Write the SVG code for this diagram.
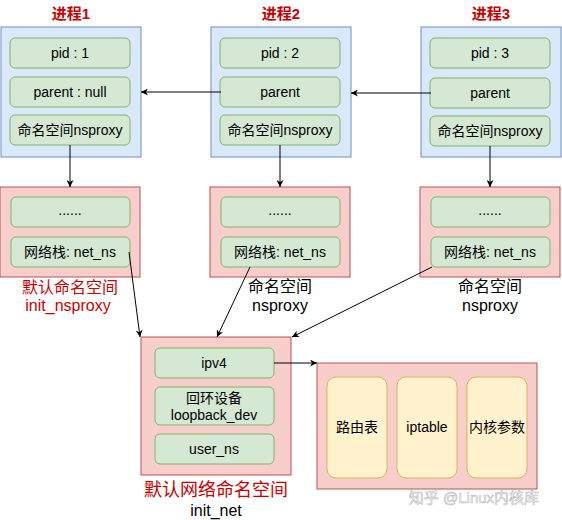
<svg xmlns="http://www.w3.org/2000/svg" width="562" height="520" viewBox="0 0 562 520">
<style>
text{font-family:"Liberation Sans","Noto Sans CJK SC",sans-serif;text-anchor:middle;dominant-baseline:central}
.blue{fill:#dae8fc;stroke:#6c8ebf;stroke-width:1}
.red{fill:#f8cecc;stroke:#b85450;stroke-width:1}
.green{fill:#d5e8d4;stroke:#82b366;stroke-width:1}
.yellow{fill:#fff2cc;stroke:#d6b656;stroke-width:1}
.t{font-size:14px;fill:#000}
.title{font-size:15px;fill:#cc0000;font-weight:bold}
.lbl{font-size:16px;fill:#000}
.rlbl{font-size:16px;fill:#cc0000}
.edge{fill:none;stroke:#000;stroke-width:1}
</style>
<defs>
<marker id="arr" viewBox="0 0 10 10" refX="10" refY="5" markerWidth="7" markerHeight="7" markerUnits="userSpaceOnUse" orient="auto">
<path d="M0,0 L10,5 L0,10 L3,5 z" fill="#000"/>
</marker>
</defs>

<g id="proc1">
<text class="title" x="71" y="13">进程1</text>
<rect class="blue" x="1" y="27" width="140" height="130"/>
<rect class="green" x="10" y="38" width="120" height="30" rx="5"/>
<text class="t" x="70" y="53">pid : 1</text>
<rect class="green" x="10" y="77" width="120" height="30" rx="5"/>
<text class="t" x="70" y="92">parent : null</text>
<rect class="green" x="10" y="115" width="120" height="30" rx="5"/>
<text class="t" x="70" y="130">命名空间nsproxy</text>
</g>

<g id="proc2">
<text class="title" x="281" y="13">进程2</text>
<rect class="blue" x="211" y="27" width="140" height="130"/>
<rect class="green" x="220" y="38" width="120" height="30" rx="5"/>
<text class="t" x="280" y="53">pid : 2</text>
<rect class="green" x="220" y="77" width="120" height="30" rx="5"/>
<text class="t" x="280" y="92">parent</text>
<rect class="green" x="220" y="115" width="120" height="30" rx="5"/>
<text class="t" x="280" y="130">命名空间nsproxy</text>
</g>

<g id="proc3">
<text class="title" x="491" y="13">进程3</text>
<rect class="blue" x="421" y="27" width="140" height="130"/>
<rect class="green" x="430" y="38" width="120" height="30" rx="5"/>
<text class="t" x="490" y="53">pid : 3</text>
<rect class="green" x="430" y="78" width="120" height="30" rx="5"/>
<text class="t" x="490" y="93">parent</text>
<rect class="green" x="430" y="116" width="120" height="30" rx="5"/>
<text class="t" x="490" y="131">命名空间nsproxy</text>
</g>

<g id="ns1">
<rect class="red" x="0" y="187" width="140" height="90"/>
<rect class="green" x="11" y="197" width="119" height="30" rx="5"/>
<text class="t" x="70" y="210">......</text>
<rect class="green" x="11" y="237" width="119" height="30" rx="5"/>
<text class="t" x="70" y="252">网络栈: net_ns</text>
<text class="rlbl" x="70" y="287">默认命名空间</text>
<text class="rlbl" x="68" y="305">init_nsproxy</text>
</g>

<g id="ns2">
<rect class="red" x="210" y="187" width="140" height="90"/>
<rect class="green" x="221" y="197" width="119" height="30" rx="5"/>
<text class="t" x="280" y="210">......</text>
<rect class="green" x="221" y="237" width="119" height="30" rx="5"/>
<text class="t" x="280" y="252">网络栈: net_ns</text>
<text class="lbl" x="280" y="286">命名空间</text>
<text class="lbl" x="280" y="305">nsproxy</text>
</g>

<g id="ns3">
<rect class="red" x="420" y="187" width="140" height="90"/>
<rect class="green" x="431" y="197" width="119" height="30" rx="5"/>
<text class="t" x="490" y="210">......</text>
<rect class="green" x="431" y="237" width="119" height="30" rx="5"/>
<text class="t" x="490" y="252">网络栈: net_ns</text>
<text class="lbl" x="490" y="286">命名空间</text>
<text class="lbl" x="490" y="305">nsproxy</text>
</g>

<g id="init_net">
<rect class="red" x="141" y="337" width="150" height="138"/>
<rect class="green" x="155" y="348" width="119" height="30" rx="5"/>
<text class="t" x="214" y="363">ipv4</text>
<rect class="green" x="155" y="387" width="119" height="38" rx="5"/>
<text class="t" x="214" y="398">回环设备</text>
<text class="t" x="214" y="415">loopback_dev</text>
<rect class="green" x="155" y="434" width="119" height="30" rx="5"/>
<text class="t" x="214" y="449">user_ns</text>
<text class="rlbl" x="216" y="490" style="font-size:18px">默认网络命名空间</text>
<text class="lbl" x="216" y="510">init_net</text>
</g>

<g id="netparams">
<rect class="red" x="317" y="363" width="220" height="126"/>
<rect class="yellow" x="327" y="377" width="60" height="101" rx="9"/>
<text class="t" x="357" y="427">路由表</text>
<rect class="yellow" x="397" y="377" width="60" height="101" rx="9"/>
<text class="t" x="427" y="427">iptable</text>
<rect class="yellow" x="467" y="377" width="60" height="101" rx="9"/>
<text class="t" x="497" y="427">内核参数</text>
</g>

<g id="connectors">
<path class="edge" d="M221,92 L141,92" marker-end="url(#arr)"/>
<path class="edge" d="M431,93 L351,93" marker-end="url(#arr)"/>
<path class="edge" d="M70,145 L70,187" marker-end="url(#arr)"/>
<path class="edge" d="M280,145 L280,187" marker-end="url(#arr)"/>
<path class="edge" d="M490,146 L490,187" marker-end="url(#arr)"/>
<path class="edge" d="M129,252 L140,337" marker-end="url(#arr)"/>
<path class="edge" d="M250,267 L217,337" marker-end="url(#arr)"/>
<path class="edge" d="M432,267 L292,337" marker-end="url(#arr)"/>
<path class="edge" d="M274,363 L317,363" marker-end="url(#arr)"/>
</g>

<text x="474" y="497" style="font-size:15px;fill:#ffffff;stroke:#bbbbbb;stroke-width:0.6">知乎 @Linux内核库</text>
</svg>
